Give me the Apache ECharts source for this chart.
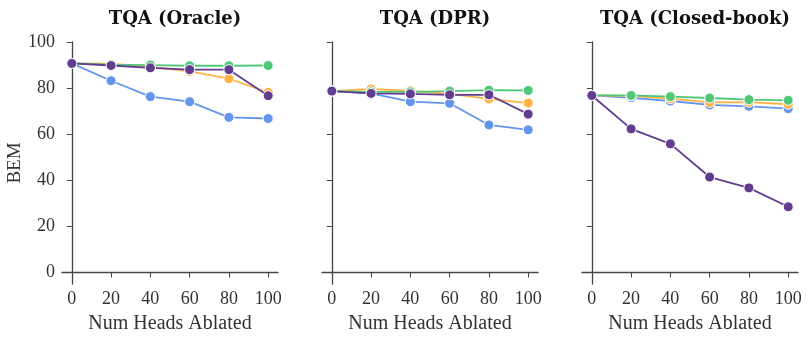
<!DOCTYPE html>
<html>
<head>
<meta charset="utf-8">
<script src="https://cdn.jsdelivr.net/npm/echarts@6/dist/echarts.min.js"></script>
<style>
  html, body { margin: 0; padding: 0; background: #fff; }
  #chart { width: 810px; height: 340px; }
</style>
</head>
<body>
<div id="chart"></div>
<script>
// x positions (number of heads ablated)
const headsAblated = [0, 20, 40, 60, 80, 100]
const yTicks = [0, 20, 40, 60, 80, 100]
const panelTitles = ['TQA (Oracle)', 'TQA (DPR)', 'TQA (Closed-book)']

// BEM values per panel
const oracleBlue = [90.7, 83.2, 76.3, 74.1, 67.3, 66.8]
const oracleOrange = [90.7, 90.6, 89.2, 87.3, 84.1, 78.1]
const oracleGreen = [90.7, 90.2, 90.0, 89.7, 89.7, 89.8]
const oraclePurple = [90.7, 89.8, 88.8, 88.0, 88.0, 76.7]

const dprBlue = [78.7, 77.7, 74.1, 73.4, 64.0, 61.9]
const dprOrange = [78.7, 79.6, 78.8, 77.5, 75.3, 73.5]
const dprGreen = [78.7, 78.4, 78.4, 78.7, 79.1, 79.0]
const dprPurple = [78.7, 77.7, 77.5, 77.1, 77.1, 68.7]

const closedBlue = [76.8, 75.8, 74.4, 72.7, 72.1, 71.1]
const closedOrange = [76.8, 76.6, 75.4, 73.8, 73.9, 73.0]
const closedGreen = [76.8, 76.8, 76.3, 75.7, 75.0, 74.7]
const closedPurple = [76.8, 62.3, 55.8, 41.4, 36.7, 28.5]

const colors = ['#6495ed', '#ffb347', '#50c878', '#613d90']
const panels = [
  [oracleBlue, oracleOrange, oracleGreen, oraclePurple],
  [dprBlue, dprOrange, dprGreen, dprPurple],
  [closedBlue, closedOrange, closedGreen, closedPurple]
]

const font = '"Liberation Serif", "DejaVu Serif", serif'
const titleFont = '"DejaVu Serif", serif'
const axisColor = '#444'
const lefts = [62, 322, 582]

const chart = echarts.init(document.getElementById('chart'))

const option = {
  animation: false,
  backgroundColor: '#fff',
  textStyle: { fontFamily: font },
  title: panelTitles.map((t, i) => ({
    text: t,
    left: lefts[i] + 108,
    textAlign: 'center',
    top: 5,
    textStyle: { fontFamily: titleFont, fontSize: 18, fontWeight: 'bold', color: '#111' }
  })),
  grid: lefts.map(l => ({ left: l, width: 216, top: 42, height: 242 })),
  xAxis: lefts.map((l, i) => ({
    type: 'value',
    gridIndex: i,
    min: -5,
    max: 105,
    name: 'Num Heads Ablated',
    nameLocation: 'middle',
    nameGap: 30,
    nameTextStyle: { fontFamily: font, fontSize: 20, color: '#333' },
    axisLine: { show: true, lineStyle: { color: axisColor, width: 1.3 } },
    axisTick: { show: true, inside: false, length: 5, customValues: headsAblated, lineStyle: { color: axisColor } },
    axisLabel: { customValues: headsAblated, fontFamily: font, fontSize: 18, color: '#333', margin: 6 },
    splitLine: { show: false }
  })),
  yAxis: lefts.map((l, i) => ({
    type: 'value',
    gridIndex: i,
    min: -5,
    max: 100,
    name: i === 0 ? 'BEM' : '',
    nameLocation: 'middle',
    nameGap: 36,
    nameTextStyle: { fontFamily: font, fontSize: 19, color: '#333' },
    axisLine: { show: true, lineStyle: { color: axisColor, width: 1.3 } },
    axisTick: { show: true, inside: false, length: 5, customValues: yTicks, lineStyle: { color: axisColor } },
    axisLabel: { show: i === 0, customValues: yTicks, fontFamily: font, fontSize: 18, color: '#333', margin: 7 },
    splitLine: { show: false }
  })),
  series: []
}

panels.forEach((lines, p) => {
  lines.forEach((vals, k) => {
    option.series.push({
      type: 'line',
      xAxisIndex: p,
      yAxisIndex: p,
      data: headsAblated.map((x, j) => [x, vals[j]]),
      symbol: 'circle',
      symbolSize: 10,
      lineStyle: { color: colors[k], width: 1.8 },
      itemStyle: { color: colors[k], borderColor: '#fff', borderWidth: 1 },
      z: 2 + k
    })
  })
})

chart.setOption(option)
</script>
</body>
</html>
